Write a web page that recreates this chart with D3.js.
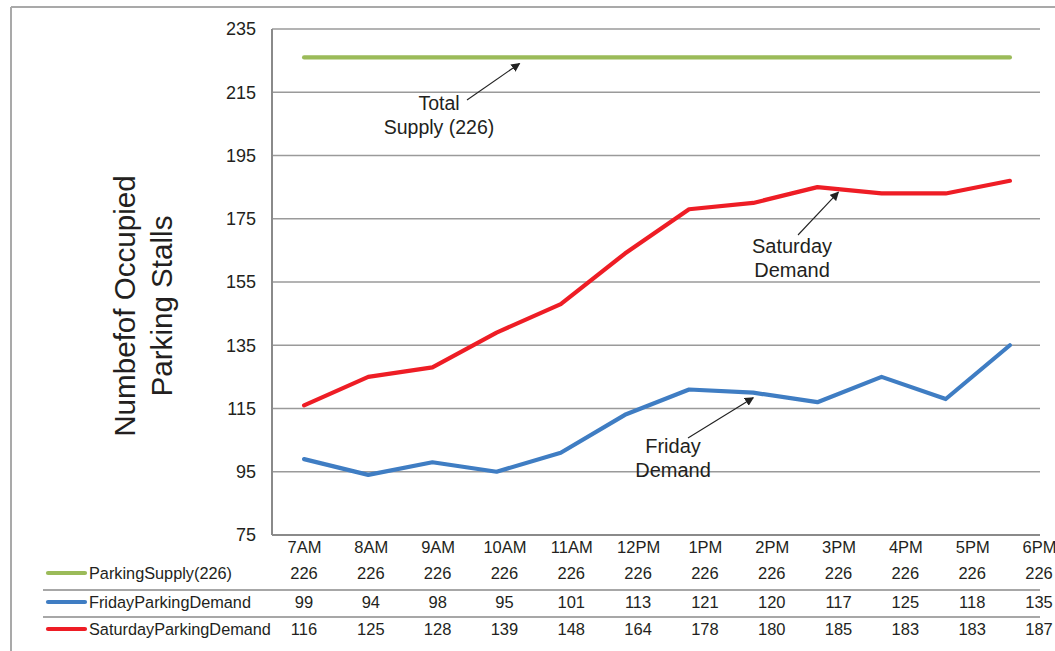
<!DOCTYPE html>
<html>
<head>
<meta charset="utf-8">
<script src="https://cdn.jsdelivr.net/npm/d3@7"></script>
<style>
  html, body { margin: 0; padding: 0; background: #fff; }
  svg { display: block; font-family: "Liberation Sans", Arial, sans-serif; }
  svg text { font-family: "Liberation Sans", Arial, sans-serif; }
</style>
</head>
<body>
<svg id="chart" width="1055" height="651"></svg>
<script>
// ---- data ----
const categories = ["7AM","8AM","9AM","10AM","11AM","12PM","1PM","2PM","3PM","4PM","5PM","6PM"];
const supplyValues = [226,226,226,226,226,226,226,226,226,226,226,226];
const fridayValues = [99,94,98,95,101,113,121,120,117,125,118,135];
const saturdayValues = [116,125,128,139,148,164,178,180,185,183,183,187];
const yTickValues = [75,95,115,135,155,175,195,215,235];
const seriesNames = ["ParkingSupply(226)","FridayParkingDemand","SaturdayParkingDemand"];
const seriesColors = ["#9BBB59","#3F7DC3","#EE1D25"];

const series = [supplyValues, fridayValues, saturdayValues].map((vals, i) => ({
  name: seriesNames[i], color: seriesColors[i],
  points: categories.map((c, j) => ({cat: c, value: vals[j]}))
}));

// ---- layout ----
const svg = d3.select("#chart");
const plot = {left: 272, right: 1042, top: 29, bottom: 535};
const x = d3.scaleBand().domain(categories).range([plot.left, plot.right]);
const xc = c => x(c) + x.bandwidth() / 2;
const y = d3.scaleLinear().domain([75, 235]).range([plot.bottom, plot.top]);
// data-table columns (slightly wider spacing than plot)
const xt = d3.scalePoint().domain(categories).range([304, 1039]);

const textColor = "#231f20";
const gridColor = "#9a9a9a";

// outer frame
svg.append("line").attr("x1", 11).attr("x2", 1055).attr("y1", 7).attr("y2", 7)
  .attr("stroke", "#a9a9a9").attr("stroke-width", 2);
svg.append("line").attr("x1", 11).attr("x2", 11).attr("y1", 7).attr("y2", 651)
  .attr("stroke", "#a9a9a9").attr("stroke-width", 2);

// gridlines
svg.append("g").selectAll("line").data(yTickValues.slice(1)).join("line")
  .attr("x1", plot.left).attr("x2", 1040)
  .attr("y1", d => y(d)).attr("y2", d => y(d))
  .attr("stroke", gridColor).attr("stroke-width", 1.5);

// y axis
const yAxis = svg.append("g").attr("transform", `translate(${plot.left},0)`)
  .call(d3.axisLeft(y).tickValues(yTickValues).tickSize(0).tickPadding(16).tickFormat(d3.format("d")));
yAxis.select(".domain").remove();
yAxis.selectAll("text").attr("font-size", 18).attr("fill", textColor);

// axis lines
svg.append("line").attr("x1", plot.left).attr("x2", plot.left).attr("y1", plot.top).attr("y2", plot.bottom)
  .attr("stroke", "#8a8a8a").attr("stroke-width", 2);
svg.append("line").attr("x1", plot.left).attr("x2", 1040).attr("y1", plot.bottom).attr("y2", plot.bottom)
  .attr("stroke", "#8a8a8a").attr("stroke-width", 2);

// x category labels (table header) via axis
const xAxis = svg.append("g").attr("transform", `translate(0,${plot.bottom})`)
  .call(d3.axisBottom(xt).tickSize(0).tickPadding(6));
xAxis.select(".domain").remove();
xAxis.selectAll("text").attr("font-size", 16.5).attr("fill", textColor);

// lines
const line = d3.line().x(d => xc(d.cat)).y(d => y(d.value));
svg.append("g").selectAll("path").data(series).join("path")
  .attr("d", d => line(d.points))
  .attr("fill", "none").attr("stroke", d => d.color)
  .attr("stroke-width", 4.2).attr("stroke-linejoin", "round").attr("stroke-linecap", "round");

// y axis title
const title = svg.append("g").attr("fill", textColor).attr("font-size", 29.6).attr("text-anchor", "middle");
title.append("text").attr("transform", "translate(135,306) rotate(-90)").text("Numbefof Occupied");
title.append("text").attr("transform", "translate(172,306) rotate(-90)").text("Parking Stalls");

// arrow marker
svg.append("defs").append("marker").attr("id", "arr")
  .attr("viewBox", "0 0 10 10").attr("refX", 9).attr("refY", 5)
  .attr("markerWidth", 9).attr("markerHeight", 9).attr("markerUnits", "userSpaceOnUse")
  .attr("orient", "auto")
  .append("path").attr("d", "M0,0 L10,5 L0,10 z").attr("fill", "#222");

function annotate(lines, tx, ty, lh, fs, a) {
  const g = svg.append("g");
  lines.forEach((t, i) => g.append("text").attr("x", tx).attr("y", ty + i * lh)
    .attr("text-anchor", "middle").attr("font-size", fs).attr("fill", textColor).text(t));
  g.append("line").attr("x1", a[0]).attr("y1", a[1]).attr("x2", a[2]).attr("y2", a[3])
    .attr("stroke", "#222").attr("stroke-width", 1.1).attr("marker-end", "url(#arr)");
}
annotate(["Total", "Supply (226)"], 439, 110, 24, 19.5,
  [467, 100, xc("10AM") + 23, y(226) + 6]);
annotate(["Saturday", "Demand"], 792, 253, 24, 20,
  [798, 235, xc("3PM") + 21, y(185) + 5]);
annotate(["Friday", "Demand"], 673, 453, 23.5, 20,
  [688, 438, xc("2PM"), y(120) + 5]);

// data table
const rowY = [573, 602, 629];
const sepY = [590, 617];
svg.append("g").selectAll("line").data(sepY).join("line")
  .attr("x1", 43).attr("x2", 1040).attr("y1", d => d).attr("y2", d => d)
  .attr("stroke", "#8a8a8a").attr("stroke-width", 1.5);

const rows = svg.append("g").selectAll("g").data(series).join("g")
  .attr("transform", (d, i) => `translate(0,${rowY[i]})`);
rows.append("line").attr("x1", 48).attr("x2", 85).attr("y1", 0).attr("y2", 0)
  .attr("stroke", d => d.color).attr("stroke-width", 4.2).attr("stroke-linecap", "round");
rows.append("text").attr("x", 89).attr("dy", "0.35em").attr("font-size", 16.3)
  .attr("fill", textColor).text(d => d.name);
rows.selectAll("text.v").data(d => d.points).join("text").attr("class", "v")
  .attr("x", d => xt(d.cat)).attr("dy", "0.35em").attr("text-anchor", "middle")
  .attr("font-size", 16.5).attr("fill", textColor).text(d => d.value);
</script>
</body>
</html>
